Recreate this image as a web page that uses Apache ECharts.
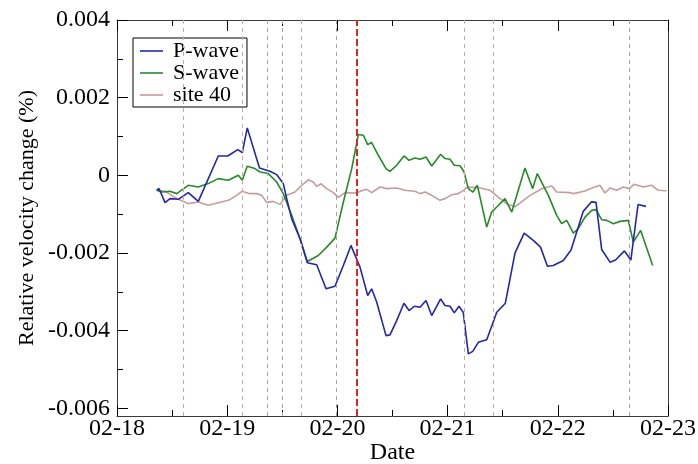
<!DOCTYPE html>
<html>
<head>
<meta charset="utf-8">
<script src="https://cdn.jsdelivr.net/npm/echarts@6/dist/echarts.min.js"></script>
<style>
  html, body { margin: 0; padding: 0; background: #fff; }
  #chart { width: 698px; height: 464px; }
</style>
</head>
<body>
<div id="chart"></div>
<script>
// Day labels along the time axis (days counted from 02-18 00:00)
const dateLabels = ['02-18', '02-19', '02-20', '02-21', '02-22', '02-23'];
const yMajorTicks = [-0.006, -0.004, -0.002, 0, 0.002, 0.004];
const yMinorTicks = [-0.005, -0.003, -0.001, 0.001, 0.003];

// P-wave relative velocity change
const pTime = [0.360,0.381,0.436,0.481,0.556,0.647,0.738,0.919,1.005,1.095,1.137,1.182,1.293,1.388,1.449,1.509,1.540,1.585,1.661,1.727,1.812,1.897,1.978,2.054,2.123,2.205,2.275,2.311,2.357,2.441,2.477,2.538,2.604,2.650,2.698,2.750,2.804,2.856,2.937,2.976,3.022,3.061,3.103,3.142,3.188,3.228,3.279,3.355,3.446,3.524,3.612,3.695,3.778,3.843,3.906,3.959,4.050,4.120,4.231,4.306,4.347,4.398,4.474,4.524,4.605,4.663,4.728,4.800];
const pVel = [-0.000387,-0.000340,-0.000705,-0.000601,-0.000619,-0.000446,-0.000671,0.000498,0.000498,0.000663,0.000586,0.001221,0.000188,0.000103,0.000018,-0.000214,-0.000601,-0.001117,-0.001634,-0.002253,-0.002305,-0.002924,-0.002857,-0.002323,-0.001806,-0.002366,-0.003097,-0.002924,-0.003270,-0.004129,-0.004111,-0.003742,-0.003295,-0.003484,-0.003373,-0.003399,-0.003226,-0.003613,-0.003182,-0.003355,-0.003373,-0.003543,-0.003373,-0.003528,-0.004601,-0.004534,-0.004302,-0.004237,-0.003528,-0.003295,-0.002000,-0.001489,-0.001677,-0.001850,-0.002343,-0.002323,-0.002194,-0.001923,-0.000929,-0.000684,-0.000697,-0.001910,-0.002237,-0.002183,-0.001948,-0.002183,-0.000754,-0.000800];

// S-wave relative velocity change
const sTime = [0.360,0.406,0.481,0.542,0.647,0.738,0.828,0.919,1.010,1.101,1.137,1.182,1.252,1.298,1.373,1.449,1.509,1.585,1.661,1.727,1.827,1.903,1.978,2.054,2.130,2.190,2.235,2.275,2.311,2.371,2.441,2.477,2.538,2.604,2.650,2.704,2.750,2.804,2.856,2.937,2.976,3.022,3.061,3.113,3.149,3.188,3.230,3.270,3.355,3.400,3.446,3.521,3.582,3.702,3.772,3.814,3.914,3.990,4.035,4.081,4.141,4.186,4.247,4.308,4.347,4.398,4.444,4.504,4.564,4.640,4.685,4.752,4.861];
const sVel = [-0.000387,-0.000431,-0.000413,-0.000472,-0.000258,-0.000302,-0.000214,-0.000085,-0.000129,0,-0.000129,0.000232,0.000173,0.000085,0.000044,-0.000173,-0.000472,-0.001032,-0.001634,-0.002219,-0.002065,-0.001850,-0.001618,-0.000689,0.000173,0.001050,0.001032,0.000792,0.000844,0.000516,0.000173,0.000103,0.000258,0.000498,0.000387,0.000446,0.000413,0.000472,0.000240,0.000542,0.000431,0.000413,0.000258,0.000245,0.000090,-0.000343,-0.000431,-0.000258,-0.001334,-0.000947,-0.000818,-0.000601,-0.000947,0.000188,-0.000343,0.000044,-0.000516,-0.001032,-0.001246,-0.001161,-0.001489,-0.001375,-0.001076,-0.000903,-0.000885,-0.001143,-0.001161,-0.001246,-0.001187,-0.001161,-0.001721,-0.001419,-0.002323];

// Site 40 relative velocity change
const siteTime = [0.360,0.436,0.556,0.647,0.738,0.828,0.919,1.010,1.086,1.134,1.191,1.268,1.313,1.358,1.418,1.479,1.540,1.615,1.676,1.736,1.781,1.812,1.851,1.903,1.963,2.008,2.069,2.175,2.205,2.266,2.311,2.387,2.447,2.538,2.613,2.704,2.750,2.795,2.856,2.931,2.976,3.037,3.097,3.152,3.173,3.264,3.385,3.460,3.536,3.612,3.748,3.868,3.945,3.990,4.111,4.141,4.247,4.322,4.383,4.428,4.474,4.534,4.594,4.649,4.691,4.776,4.852,4.912,4.988];
const siteVel = [-0.000387,-0.000413,-0.000619,-0.000730,-0.000689,-0.000774,-0.000705,-0.000645,-0.000516,-0.000413,-0.000465,-0.000472,-0.000516,-0.000697,-0.000671,-0.000756,-0.000516,-0.000431,-0.000258,-0.000116,-0.000173,-0.000284,-0.000219,-0.000343,-0.000446,-0.000568,-0.000446,-0.000457,-0.000413,-0.000361,-0.000446,-0.000302,-0.000343,-0.000328,-0.000387,-0.000413,-0.000472,-0.000431,-0.000516,-0.000645,-0.000601,-0.000503,-0.000472,-0.000374,-0.000310,-0.000310,-0.000387,-0.000560,-0.000730,-0.000813,-0.000516,-0.000328,-0.000276,-0.000431,-0.000446,-0.000472,-0.000405,-0.000317,-0.000258,-0.000457,-0.000328,-0.000387,-0.000302,-0.000343,-0.000232,-0.000302,-0.000258,-0.000387,-0.000400];

// Event times (days), the main event drawn in red
const eventRose = [0.596, 1.137, 1.665, 3.149, 3.409];
const eventGrey = [1.364, 1.502, 1.985, 4.649];
const mainEvent = 2.184;

const zip = (xs, ys) => xs.map((x, i) => [x, ys[i]]);
const FONT = '"Liberation Serif", "DejaVu Serif", serif';
const AXIS = '#3a3a3a';

const chart = echarts.init(document.getElementById('chart'), null, { renderer: 'canvas' });

const xCommon = {
  type: 'value', min: 0, max: 5, interval: 1,
  axisLine: { show: true, onZero: false, lineStyle: { color: AXIS, width: 1 } },
  axisTick: { show: true, inside: true, length: 11, lineStyle: { color: '#000' } },
  minorTick: { show: true, splitNumber: 2, length: 6, lineStyle: { color: '#000' } },
  splitLine: { show: false }, minorSplitLine: { show: false }
};

const yCommon = {
  type: 'value', min: -0.0062, max: 0.004,
  splitLine: { show: false }
};

const vline = (x, color, width, dash) => ({
  xAxis: x,
  lineStyle: { color: color, width: width, type: dash }
});

chart.setOption({
  animation: false,
  backgroundColor: '#fff',
  grid: { left: 117, top: 20, right: 30, bottom: 48, containLabel: false, outerBoundsMode: 'none' },
  legend: {
    orient: 'vertical',
    left: 133, top: 38,
    data: ['P-wave', 'S-wave', 'site 40'],
    icon: 'rect',
    itemWidth: 23, itemHeight: 1.6, itemGap: 0,
    padding: [2, 8, 1, 7],
    borderColor: '#000', borderWidth: 1,
    backgroundColor: '#fff',
    textStyle: { fontFamily: FONT, fontSize: 22, color: '#000', lineHeight: 22, padding: [0, 0, 0, 5] }
  },
  xAxis: [
    Object.assign({}, xCommon, {
      position: 'bottom',
      name: 'Date', nameLocation: 'middle', nameGap: 25, nameMoveOverlap: false,
      nameTextStyle: { fontFamily: FONT, fontSize: 24, color: '#000' },
      axisLabel: {
        show: true, margin: 1, fontFamily: FONT, fontSize: 24, color: '#000',
        formatter: v => dateLabels[Math.round(v)] || ''
      }
    }),
    Object.assign({}, xCommon, {
      position: 'top',
      axisLabel: { show: false }
    })
  ],
  yAxis: [
    Object.assign({}, yCommon, {
      position: 'left',
      name: 'Relative velocity change (%)', nameLocation: 'middle', nameGap: 79, nameMoveOverlap: false,
      nameTextStyle: { fontFamily: FONT, fontSize: 22, color: '#000' },
      axisLine: { show: true, onZero: false, lineStyle: { color: AXIS, width: 1 } },
      axisTick: { show: true, inside: true, length: 11, customValues: yMajorTicks, lineStyle: { color: '#000' } },
      axisLabel: {
        show: true, margin: 7, fontFamily: FONT, fontSize: 24, color: '#000',
        customValues: yMajorTicks,
        formatter: v => (Math.abs(v) < 1e-12 ? '0' : v.toFixed(3))
      }
    }),
    Object.assign({}, yCommon, {
      position: 'left',
      axisLine: { show: false, onZero: false },
      axisTick: { show: true, inside: true, length: 6, customValues: yMinorTicks, lineStyle: { color: '#000' } },
      axisLabel: { show: false }
    }),
    Object.assign({}, yCommon, {
      position: 'right',
      axisLine: { show: true, onZero: false, lineStyle: { color: AXIS, width: 1 } },
      axisTick: { show: false },
      axisLabel: { show: false }
    })
  ],
  series: [
    {
      name: 'events', type: 'line', data: [], z: 1,
      xAxisIndex: 0, yAxisIndex: 0,
      markLine: {
        silent: true, symbol: 'none', label: { show: false },
        data: eventRose.map(x => vline(x, '#cfa9a9', 1, [4, 4]))
          .concat(eventGrey.map(x => vline(x, '#a9a3a3', 1, [4, 4])))
          .concat([vline(mainEvent, '#d42a2a', 2, [7, 3])])
      }
    },
    {
      name: 'P-wave', type: 'line', z: 4, showSymbol: false, symbol: 'none',
      data: zip(pTime, pVel),
      lineStyle: { color: '#2427a8', width: 1.6 }, itemStyle: { color: '#2427a8' }
    },
    {
      name: 'S-wave', type: 'line', z: 3, showSymbol: false, symbol: 'none',
      data: zip(sTime, sVel),
      lineStyle: { color: '#278a2a', width: 1.6 }, itemStyle: { color: '#278a2a' }
    },
    {
      name: 'site 40', type: 'line', z: 2, showSymbol: false, symbol: 'none',
      data: zip(siteTime, siteVel),
      lineStyle: { color: '#c49c9c', width: 1.6 }, itemStyle: { color: '#c49c9c' }
    }
  ]
});
</script>
</body>
</html>
